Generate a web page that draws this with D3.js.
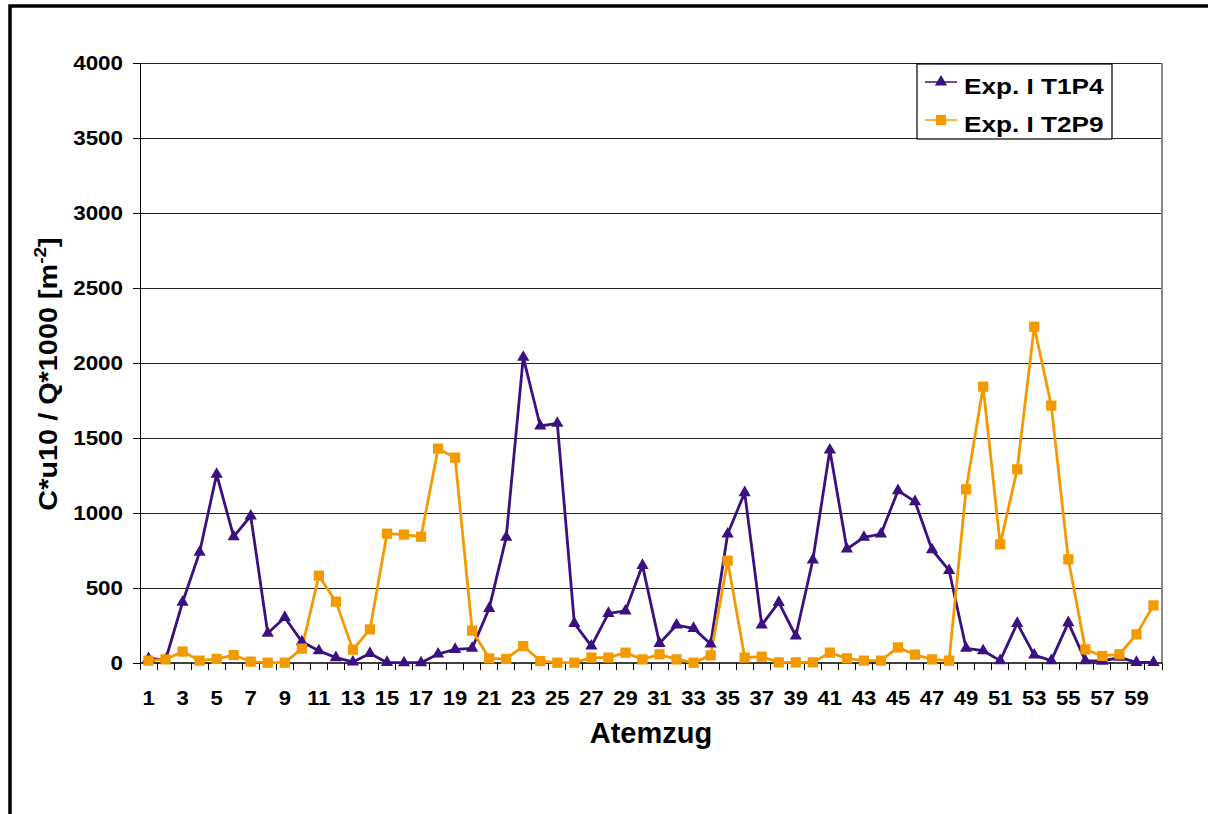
<!DOCTYPE html>
<html><head><meta charset="utf-8">
<script src="https://cdn.jsdelivr.net/npm/d3@7"></script>
<style>body{margin:0;background:#fff}svg{display:block}text{font-family:"Liberation Sans",Arial,sans-serif;font-weight:bold}</style>
</head><body>
<script>
const categories = d3.range(1, 61);
const seriesNames = ["Exp. I T1P4", "Exp. I T2P9"];
const t1p4 = [30,20,405,738,1258,842,980,198,304,142,82,36,7,64,4,2,2,60,91,98,364,838,2038,1580,1598,264,113,331,347,651,131,253,231,127,860,1136,253,404,180,687,1420,760,838,860,1149,1076,755,617,98,82,16,264,53,16,269,16,12,38,4,4];
const t2p9 = [16,24,76,16,27,53,9,2,2,96,582,409,89,224,862,856,842,1429,1369,216,31,27,113,13,2,2,36,36,69,24,58,24,2,51,682,36,42,4,4,4,69,31,16,16,104,56,24,16,1158,1842,791,1291,2242,1716,691,91,47,58,191,384];
const yTicks = [0,500,1000,1500,2000,2500,3000,3500,4000];
const xTickLabels = categories.filter(d => d % 2 === 1);
const colors = ["#3B1080", "#F29A00"];

const W = 1208, H = 814;
const svg = d3.select("body").append("svg").attr("width", W).attr("height", H);
// outer chart frame (partially visible)
svg.append("rect").attr("x", 10).attr("y", 6).attr("width", W + 20).attr("height", H + 20)
  .attr("fill", "none").attr("stroke", "#000").attr("stroke-width", 3.5);

const L = 140, R = 1162, T = 63, B = 663;
const x = d3.scaleBand().domain(categories).range([L, R]);
const y = d3.scaleLinear().domain([0, 4000]).range([B, T]);

// gridlines
svg.append("g").selectAll("line").data(yTicks.filter(d => d > 0)).join("line")
  .attr("x1", L).attr("x2", R).attr("y1", d => y(d)).attr("y2", d => y(d))
  .attr("stroke", "#222").attr("stroke-width", 1).attr("shape-rendering", "crispEdges");
// right border of plot area
svg.append("line").attr("x1", R).attr("x2", R).attr("y1", T).attr("y2", B)
  .attr("stroke", "#888").attr("stroke-width", 1.5).attr("shape-rendering", "crispEdges");

// y axis
const yAxis = d3.axisLeft(y).tickValues(yTicks).tickSize(7).tickFormat(() => "");
const gy = svg.append("g").attr("transform", `translate(${L},0)`).call(yAxis);
gy.select(".domain").attr("stroke", "#000").attr("shape-rendering", "crispEdges");
gy.selectAll(".tick line").attr("stroke", "#000").attr("shape-rendering", "crispEdges");
svg.append("g").selectAll("text").data(yTicks).join("text")
  .attr("transform", d => `translate(123,${y(d) + 7}) scale(1.12,1)`)
  .attr("text-anchor", "end").style("font-size", "20px").text(d => d);

// x axis: tick marks at category boundaries
const gx = svg.append("g");
gx.append("line").attr("x1", L).attr("x2", R).attr("y1", B).attr("y2", B).attr("stroke", "#000").attr("stroke-width", 1.5);
const bounds = d3.range(0, categories.length + 1).map(i => L + i * x.step());
gx.selectAll(".tk").data(bounds).join("line").attr("class", "tk")
  .attr("x1", d => d).attr("x2", d => d).attr("y1", B).attr("y2", B + 7)
  .attr("stroke", "#000").attr("shape-rendering", "crispEdges");
gx.selectAll(".lbl").data(xTickLabels).join("text").attr("class", "lbl")
  .attr("transform", d => `translate(${x(d) + x.bandwidth() / 2},705) scale(1.05,1)`)
  .attr("text-anchor", "middle").style("font-size", "21px").text(d => d);

// axis titles
svg.append("text").attr("x", 651).attr("y", 743).attr("text-anchor", "middle")
  .style("font-size", "29px").text("Atemzug");
const yl = svg.append("text").attr("transform", `translate(57,374) rotate(-90) scale(1.11,1)`)
  .attr("text-anchor", "middle").style("font-size", "26px");
yl.append("tspan").text("C*u10 / Q*1000 [m");
yl.append("tspan").attr("dy", -11).style("font-size", "17px").text("-2");
yl.append("tspan").attr("dy", 11).text("]");

// series
const data = [t1p4, t2p9];
const cx = i => x(categories[i]) + x.bandwidth() / 2;
const line = d3.line().x((d, i) => cx(i)).y(d => y(d));
data.forEach((s, k) => {
  svg.append("path").datum(s).attr("d", line).attr("fill", "none")
    .attr("stroke", colors[k]).attr("stroke-width", 2.8).attr("stroke-linejoin", "round");
});
// markers
const tri = d3.symbol().type(d3.symbolTriangle).size(65);
const sq = d3.symbol().type(d3.symbolSquare).size(105);
svg.append("g").selectAll("path").data(t1p4).join("path")
  .attr("d", tri).attr("transform", (d, i) => `translate(${cx(i)},${y(d)})`).attr("fill", colors[0]);
svg.append("g").selectAll("path").data(t2p9).join("path")
  .attr("d", sq).attr("transform", (d, i) => `translate(${cx(i)},${y(d)})`).attr("fill", colors[1]);

// legend
const lg = svg.append("g");
lg.append("rect").attr("x", 917).attr("y", 64).attr("width", 195).attr("height", 75)
  .attr("fill", "#fff").attr("stroke", "#000").attr("stroke-width", 1.2);
seriesNames.forEach((n, k) => {
  const yy = 82 + k * 38;
  lg.append("line").attr("x1", 925).attr("x2", 957).attr("y1", yy).attr("y2", yy)
    .attr("stroke", colors[k]).attr("stroke-width", 1.5);
  lg.append("path").attr("d", k === 0 ? tri : sq).attr("transform", `translate(941,${yy})`).attr("fill", colors[k]);
  lg.append("text").attr("transform", `translate(964,${yy + 12}) scale(1.19,1)`)
    .style("font-size", "22px").text(n);
});
</script>
</body></html>
